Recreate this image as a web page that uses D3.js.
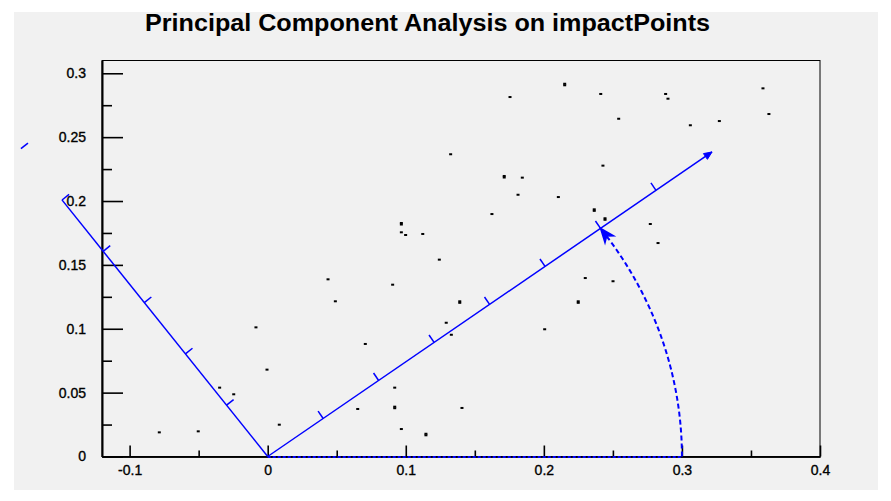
<!DOCTYPE html>
<html>
<head>
<meta charset="utf-8">
<script src="https://cdn.jsdelivr.net/npm/d3@7"></script>
<style>
  html, body { margin: 0; padding: 0; background: #ffffff; }
  svg { display: block; }
</style>
</head>
<body>
<script>
// ---- chart content ----
const title = "Principal Component Analysis on impactPoints";

const xTicks = [-0.1, 0, 0.1, 0.2, 0.3, 0.4];
const xTickLabels = ["-0.1", "0", "0.1", "0.2", "0.3", "0.4"];
const xMinorTicks = [-0.05, 0.05, 0.15, 0.25, 0.35];
const yTicks = [0, 0.05, 0.1, 0.15, 0.2, 0.25, 0.3];
const yTickLabels = ["0", "0.05", "0.1", "0.15", "0.2", "0.25", "0.3"];
const yMinorTicks = [0.025, 0.075, 0.125, 0.175, 0.225, 0.275];

// impact points (x, y)
const pointsX = [0.2151, 0.2151, 0.1755, 0.1325, 0.1713, 0.1713, 0.1844, 0.1813, 0.2105, 0.1624,
                 0.0968, 0.0968, 0.0968, 0.0999, 0.1123, 0.1243, 0.2412, 0.2882, 0.2899, 0.3587,
                 0.2542, 0.3061, 0.3271, 0.3630, 0.2428, 0.2365, 0.2365, 0.2443, 0.2443, 0.2771,
                 0.2827, 0.2300, 0.2501, 0.0905, 0.1391, 0.1391, 0.2249, 0.2249, 0.1293, 0.1330,
                 0.2006, 0.0707, 0.0920, 0.0920, 0.0920, 0.0652, 0.1407, 0.0968, 0.1146, 0.1146,
                 0.0437, 0.0490, -0.0085, -0.0005, -0.0348, -0.0246, 0.0084, -0.0785, -0.0503];
const pointsY = [0.2918, 0.2906, 0.2814, 0.2366, 0.2196, 0.2184, 0.2183, 0.2049, 0.2031, 0.1898,
                 0.1828, 0.1816, 0.1755, 0.1734, 0.1742, 0.1541, 0.2838, 0.2838, 0.2801, 0.2882,
                 0.2644, 0.2593, 0.2626, 0.2681, 0.2277, 0.1935, 0.1923, 0.1865, 0.1853, 0.1820,
                 0.1671, 0.1397, 0.1372, 0.1345, 0.1215, 0.1203, 0.1215, 0.1203, 0.1047, 0.0953,
                 0.0996, 0.0881, 0.0539, 0.0390, 0.0378, 0.0372, 0.0380, 0.0215, 0.0178, 0.0166,
                 0.1387, 0.1215, 0.1011, 0.0680, 0.0539, 0.0487, 0.0249, 0.0189, 0.0197];

// principal component axes (end points in data units) and their tick positions (distance from origin)
const pc1End = [0.3218, 0.2384];
const pc1Ticks = [0.05, 0.10, 0.15, 0.20, 0.25, 0.30, 0.35];
const pc2End = [-0.149, 0.2009];
const pc2Ticks = [0.05, 0.10, 0.15, 0.20, 0.25, 0.30];
const rotationRadius = 0.3;

// ---- drawing ----
const W = 891, H = 501;
const svg = d3.select("body").append("svg").attr("width", W).attr("height", H);

svg.append("rect").attr("x", 14).attr("y", 12).attr("width", 864).attr("height", 478)
  .attr("fill", "#f1f1f1");

const x = d3.scaleLinear().domain([-0.12, 0.4]).range([102, 820]);
const y = d3.scaleLinear().domain([0, 0.31]).range([456.5, 60.5]);

const font = "'Liberation Sans', Arial, Helvetica, sans-serif";

svg.append("text")
  .attr("x", 427.5).attr("y", 31)
  .attr("text-anchor", "middle")
  .attr("font-family", font).attr("font-weight", "bold").attr("font-size", 23)
  .attr("textLength", 565).attr("lengthAdjust", "spacingAndGlyphs")
  .attr("fill", "#000")
  .text(title);

// frame
svg.append("rect")
  .attr("x", x.range()[0]).attr("y", y.range()[1])
  .attr("width", x.range()[1] - x.range()[0]).attr("height", y.range()[0] - y.range()[1])
  .attr("fill", "none").attr("stroke", "#000").attr("stroke-width", 1);

// axes
const xAxis = d3.axisBottom(x).tickValues(xTicks)
  .tickFormat((d, i) => xTickLabels[i]).tickSizeInner(-11).tickSizeOuter(0).tickPadding(9);
const xMinor = d3.axisBottom(x).tickValues(xMinorTicks).tickFormat("").tickSizeInner(-6).tickSizeOuter(0);
const yAxis = d3.axisLeft(y).tickValues(yTicks)
  .tickFormat((d, i) => yTickLabels[i]).tickSizeInner(-21).tickSizeOuter(0).tickPadding(16);
const yMinor = d3.axisLeft(y).tickValues(yMinorTicks).tickFormat("").tickSizeInner(-10).tickSizeOuter(0);

function styleAxis(g) {
  g.selectAll("path.domain").attr("stroke", "#000").attr("stroke-width", 1.6);
  g.selectAll(".tick line").attr("stroke", "#000").attr("stroke-width", 1.6);
  g.selectAll("text").attr("font-family", font).attr("font-size", 14).attr("fill", "#000")
    .attr("stroke", "#000").attr("stroke-width", 0.35);
}
const bottomY = y.range()[0], leftX = x.range()[0];
svg.append("g").attr("transform", `translate(0,${bottomY})`).call(xMinor).call(styleAxis);
svg.append("g").attr("transform", `translate(0,${bottomY})`).call(xAxis).call(styleAxis);
svg.append("g").attr("transform", `translate(${leftX},0)`).call(yMinor).call(styleAxis);
svg.append("g").attr("transform", `translate(${leftX},0)`).call(yAxis).call(styleAxis);

// points
svg.append("g").selectAll("rect")
  .data(d3.range(pointsX.length))
  .join("rect")
  .attr("x", i => x(pointsX[i]) - 1.5)
  .attr("y", i => y(pointsY[i]) - 1)
  .attr("width", 3).attr("height", 2)
  .attr("fill", "#000");

// principal component axes
const blue = "#0000ff";
const g = svg.append("g");
const ox = x(0), oy = y(0);

function pcAxis(end, ticks, side) {
  const len = Math.hypot(end[0], end[1]);
  const u = [end[0] / len, end[1] / len];
  const sx = x(u[0]) - ox, sy = y(u[1]) - oy;
  const sl = Math.hypot(sx, sy);
  const d = [sx / sl, sy / sl];
  const p = side > 0 ? [d[1], -d[0]] : [-d[1], d[0]];
  g.append("line")
    .attr("x1", ox).attr("y1", oy).attr("x2", x(end[0])).attr("y2", y(end[1]))
    .attr("stroke", blue).attr("stroke-width", 1.5);
  ticks.forEach(t => {
    const tx = x(u[0] * t), ty = y(u[1] * t);
    g.append("line")
      .attr("x1", tx).attr("y1", ty)
      .attr("x2", tx + p[0] * 9).attr("y2", ty + p[1] * 9)
      .attr("stroke", blue).attr("stroke-width", 1.5);
  });
  return { u, d, len };
}

const a1 = pcAxis(pc1End, pc1Ticks, 1);
pcAxis(pc2End, pc2Ticks, -1);

// arrowhead of the first component
{
  const tipX = x(pc1End[0]), tipY = y(pc1End[1]);
  const d = a1.d, p = [d[1], -d[0]];
  const L = 8, Wd = 3.5;
  g.append("path")
    .attr("d", `M${tipX},${tipY}L${tipX - d[0] * L + p[0] * Wd},${tipY - d[1] * L + p[1] * Wd}` +
               `L${tipX - d[0] * L - p[0] * Wd},${tipY - d[1] * L - p[1] * Wd}Z`)
    .attr("fill", blue).attr("stroke", blue).attr("stroke-width", 1);
}

// rotation: dotted reference along x, dashed arc up to the first component
g.append("line")
  .attr("x1", x(0)).attr("y1", oy + 0.5).attr("x2", x(rotationRadius)).attr("y2", oy + 0.5)
  .attr("stroke", blue).attr("stroke-width", 2).attr("stroke-dasharray", "3,2");

const theta = Math.atan2(pc1End[1], pc1End[0]);
const angles = d3.range(0, 101).map(k => theta * k / 100);
g.append("path")
  .attr("d", d3.line()(angles.map(a => [x(rotationRadius * Math.cos(a)), y(rotationRadius * Math.sin(a))])))
  .attr("fill", "none").attr("stroke", blue).attr("stroke-width", 2).attr("stroke-dasharray", "5,3");

{
  const tipX = x(rotationRadius * Math.cos(theta)), tipY = y(rotationRadius * Math.sin(theta));
  const tx = x(-Math.sin(theta)) - x(0), ty = y(Math.cos(theta)) - y(0);
  const tl = Math.hypot(tx, ty);
  const d = [tx / tl, ty / tl], p = [d[1], -d[0]];
  const L = 14, Wd = 5.5;
  g.append("path")
    .attr("d", `M${tipX},${tipY}L${tipX - d[0] * L + p[0] * Wd},${tipY - d[1] * L + p[1] * Wd}` +
               `L${tipX - d[0] * L * 0.7},${tipY - d[1] * L * 0.7}` +
               `L${tipX - d[0] * L - p[0] * Wd},${tipY - d[1] * L - p[1] * Wd}Z`)
    .attr("fill", blue).attr("stroke", blue).attr("stroke-width", 1.5);
}
</script>
</body>
</html>
